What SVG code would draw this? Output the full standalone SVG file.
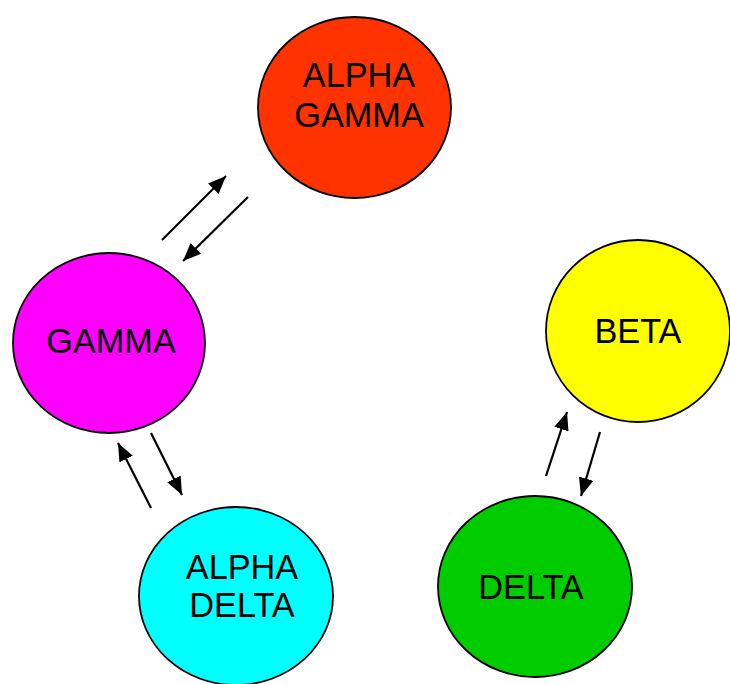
<svg xmlns="http://www.w3.org/2000/svg" width="730" height="684" viewBox="0 0 730 684">
<defs>
<style>
.node{stroke:#000;stroke-width:1.8}
.lbl{font-family:"Liberation Sans",Arial,sans-serif;font-size:34.3px;fill:#000;text-anchor:middle}
.conn{stroke:#000;stroke-width:2.2;fill:none;marker-end:url(#ah)}
</style>
<marker id="ah" markerUnits="userSpaceOnUse" markerWidth="20" markerHeight="16" refX="18" refY="7.5" orient="auto">
<path d="M0,0 L18,7.5 L0,15 Z" fill="#000"/>
</marker>
</defs>
<rect width="730" height="684" fill="#fff"/>
<g id="alpha-gamma">
<ellipse class="node" cx="354.5" cy="107.5" rx="96.5" ry="90.5" fill="#FF3300"/>
<text class="lbl" x="359" y="87">ALPHA</text>
<text class="lbl" x="359" y="127">GAMMA</text>
</g>
<g id="gamma">
<ellipse class="node" cx="109" cy="343" rx="96" ry="90" fill="#FF00FF"/>
<text class="lbl" x="111" y="353">GAMMA</text>
</g>
<g id="beta">
<ellipse class="node" cx="638" cy="331" rx="92" ry="91" fill="#FFFF00"/>
<text class="lbl" x="638" y="343">BETA</text>
</g>
<g id="alpha-delta">
<ellipse class="node" cx="236" cy="596" rx="97" ry="89" fill="#00FFFF"/>
<text class="lbl" x="242" y="579">ALPHA</text>
<text class="lbl" x="242" y="617">DELTA</text>
</g>
<g id="delta">
<ellipse class="node" cx="535" cy="586.5" rx="97" ry="90.5" fill="#00CC00"/>
<text class="lbl" x="531" y="599">DELTA</text>
</g>
<g id="connectors">
<line class="conn" x1="162" y1="240" x2="226" y2="176"/>
<line class="conn" x1="248" y1="197" x2="183" y2="261"/>
<line class="conn" x1="151" y1="433" x2="182" y2="495"/>
<line class="conn" x1="151" y1="508" x2="118" y2="443"/>
<line class="conn" x1="546" y1="476" x2="567" y2="412"/>
<line class="conn" x1="600" y1="432" x2="581" y2="496"/>
</g>
</svg>
